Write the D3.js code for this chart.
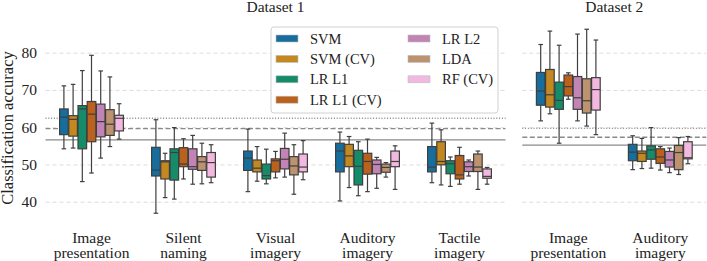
<html>
<head>
<meta charset="UTF-8">
<script src="https://d3js.org/d3.v7.min.js"></script>
<style>
  body { margin: 0; background: #fff; }
  text { font-family: "Liberation Serif", "DejaVu Serif", serif; fill: #222; }
  .domain { display: none; }
  .gridlines line { stroke: #dcdcdc; stroke-dasharray: 4,3; }
</style>
</head>
<body>
<svg id="chart" width="707" height="261"></svg>
<script>
// models (hue) and the colorblind palette
const models = ['SVM', 'SVM (CV)', 'LR L1', 'LR L1 (CV)', 'LR L2', 'LDA', 'RF (CV)'];
const palette = ['#0173b2', '#de8f05', '#029e73', '#d55e00', '#cc78bc', '#ca9161', '#fbafe4'];

// task categories for each dataset
const d1Tasks = ['Image presentation', 'Silent naming', 'Visual imagery', 'Auditory imagery', 'Tactile imagery'];
const d2Tasks = ['Image presentation', 'Auditory imagery'];
const yTicks = [40, 50, 60, 70, 80];

// box stats per model: [whisker low, Q1, median, Q3, whisker high]
const d1ImagePresentation = [
  [54.2, 58.0, 62.7, 64.9, 71.1], [54.4, 57.6, 62.1, 63.1, 71.5], [45.4, 54.2, 64.9, 65.8, 75.2],
  [47.7, 56.1, 63.5, 66.9, 79.3], [51.7, 57.4, 61.5, 66.2, 75.1], [54.8, 57.8, 60.8, 64.7, 73.5],
  [56.8, 59.0, 62.4, 63.2, 66.3]];
const d1SilentNaming = [
  [36.9, 46.9, 48.5, 54.6, 62.0], [41.1, 46.1, 50.7, 51.0, 53.0], [40.7, 45.8, 53.2, 54.2, 59.9],
  [46.1, 49.4, 50.1, 54.5, 56.9], [44.7, 48.7, 49.4, 54.2, 57.8], [44.8, 48.4, 50.7, 52.1, 55.7],
  [45.1, 46.6, 50.5, 53.2, 55.3]];
const d1VisualImagery = [
  [42.7, 48.4, 51.7, 53.6, 59.5], [45.5, 48.0, 49.0, 51.2, 54.8], [44.8, 46.1, 47.0, 50.1, 54.1],
  [46.4, 48.0, 51.0, 51.5, 53.5], [46.6, 48.8, 51.4, 54.3, 58.4], [42.0, 47.2, 49.6, 52.1, 55.3],
  [45.9, 48.0, 49.3, 52.8, 56.4]];
const d1AuditoryImagery = [
  [40.2, 48.0, 53.6, 55.7, 58.7], [43.8, 49.4, 52.3, 55.4, 57.5], [41.6, 44.5, 49.5, 53.8, 56.1],
  [42.7, 47.4, 50.8, 53.0, 56.8], [43.6, 47.5, 50.0, 51.2, 51.9], [46.6, 47.9, 49.2, 50.1, 50.5],
  [43.3, 49.4, 50.8, 53.6, 55.0]];
const d1TactileImagery = [
  [45.1, 48.0, 49.3, 54.8, 61.1], [44.5, 49.9, 50.8, 56.1, 59.3], [44.1, 47.5, 50.2, 51.0, 52.0],
  [44.7, 46.1, 47.2, 52.4, 54.6], [46.9, 48.1, 49.4, 50.7, 51.2], [43.3, 48.1, 49.3, 52.8, 53.6],
  [44.7, 46.3, 46.8, 48.8, 49.2]];
const d2ImagePresentation = [
  [61.7, 65.9, 69.7, 74.7, 82.2], [63.6, 65.4, 68.7, 75.5, 85.8], [55.7, 64.8, 67.2, 72.1, 82.0],
  [67.5, 68.4, 70.9, 74.0, 74.6], [61.7, 64.8, 67.9, 73.6, 85.0], [60.3, 63.8, 67.1, 73.0, 86.3],
  [58.0, 64.6, 70.1, 73.3, 83.4]];
const d2AuditoryImagery = [
  [48.6, 51.0, 53.3, 55.4, 57.7], [48.9, 50.8, 53.0, 53.6, 57.0], [49.0, 51.4, 53.9, 55.0, 59.9],
  [48.5, 50.3, 52.0, 54.2, 54.8], [47.8, 49.3, 51.2, 53.5, 54.4], [47.3, 48.6, 53.2, 55.1, 57.2],
  [50.2, 51.5, 51.8, 56.1, 57.5]];

// chance-level reference lines: dotted, dashed, solid
const d1RefLines = [62.4, 59.6, 56.6];
const d2RefLines = [59.7, 57.3, 55.2];

const d1Stats = [d1ImagePresentation, d1SilentNaming, d1VisualImagery, d1AuditoryImagery, d1TactileImagery];
const d2Stats = [d2ImagePresentation, d2AuditoryImagery];

const svg = d3.select('#chart');
const lineColor = '#3f3f3f';
const fills = palette.map(c => { const h = d3.hsl(c); h.s *= 0.75; return h.formatHex(); });
const colorScale = d3.scaleOrdinal().domain(models).range(fills);

const y = d3.scaleLinear().domain([40, 80]).range([201.7, 52.7]);
const refDash = ['1,1.8', '5,2.5', null];

const panels = [
  {title: 'Dataset 1', tasks: d1Tasks, stats: d1Stats, refs: d1RefLines, range: [45.5, 505.5]},
  {title: 'Dataset 2', tasks: d2Tasks, stats: d2Stats, refs: d2RefLines, range: [522.3, 706.3]}
];

panels.forEach(p => {
  const x = d3.scaleBand().domain(p.tasks).range(p.range);
  const w = p.range[1] - p.range[0];
  const hue = d3.scaleBand().domain(models)
                .range([x.bandwidth() * 0.15, x.bandwidth() * 0.85]);

  // dashed gridlines
  svg.append('g')
     .attr('class', 'gridlines')
     .attr('transform', `translate(${p.range[0]},0)`)
     .call(d3.axisLeft(y).tickValues(yTicks).tickSize(-w).tickFormat(''));

  // reference lines
  svg.append('g').selectAll('line')
     .data(p.refs)
     .join('line')
     .attr('x1', p.range[0]).attr('x2', p.range[1])
     .attr('y1', d => y(d)).attr('y2', d => y(d))
     .attr('stroke', '#8a8a8a')
     .attr('stroke-width', 1.3)
     .attr('stroke-dasharray', (d, i) => refDash[i]);

  // category labels (two lines)
  const xAxis = svg.append('g')
     .attr('transform', 'translate(0,227)')
     .call(d3.axisBottom(x).tickSize(0).tickPadding(0));
  xAxis.selectAll('.tick text')
     .attr('font-size', 15.5)
     .attr('y', 0).attr('dy', null)
     .each(function(d) {
        const t = d3.select(this).text('');
        d.split(' ').forEach((word, i) => {
          t.append('tspan').attr('x', 0).attr('y', 15.5 + i * 15).text(word);
        });
     });

  // title
  svg.append('text')
     .attr('x', (p.range[0] + p.range[1]) / 2)
     .attr('y', 12)
     .attr('text-anchor', 'middle')
     .attr('font-size', 15.5)
     .text(p.title);

  // boxes
  const groups = svg.append('g').selectAll('g.task')
     .data(p.tasks)
     .join('g')
     .attr('class', 'task')
     .attr('transform', d => `translate(${x(d)},0)`);

  groups.each(function(task, ti) {
    const g = d3.select(this);
    const bw = hue.bandwidth();
    const boxes = g.selectAll('g.box')
       .data(p.stats[ti].map((s, mi) => ({model: models[mi], s: s})))
       .join('g')
       .attr('class', 'box')
       .attr('transform', d => `translate(${hue(d.model)},0)`);

    boxes.append('line')
       .attr('x1', bw / 2).attr('x2', bw / 2)
       .attr('y1', d => y(d.s[0])).attr('y2', d => y(d.s[1]));
    boxes.append('line')
       .attr('x1', bw / 2).attr('x2', bw / 2)
       .attr('y1', d => y(d.s[3])).attr('y2', d => y(d.s[4]));
    boxes.append('line')
       .attr('x1', bw / 4).attr('x2', bw * 3 / 4)
       .attr('y1', d => y(d.s[0])).attr('y2', d => y(d.s[0]));
    boxes.append('line')
       .attr('x1', bw / 4).attr('x2', bw * 3 / 4)
       .attr('y1', d => y(d.s[4])).attr('y2', d => y(d.s[4]));
    boxes.append('rect')
       .attr('x', 0.3).attr('width', bw - 0.6)
       .attr('y', d => y(d.s[3]))
       .attr('height', d => y(d.s[1]) - y(d.s[3]))
       .attr('fill', d => colorScale(d.model));
    boxes.append('line')
       .attr('x1', 0.3).attr('x2', bw - 0.3)
       .attr('y1', d => y(d.s[2])).attr('y2', d => y(d.s[2]));
    boxes.selectAll('line, rect')
       .attr('stroke', lineColor)
       .attr('stroke-width', 1.2);
  });
});

// y axis labels
svg.append('g')
   .attr('transform', 'translate(45,0)')
   .call(d3.axisLeft(y).tickValues(yTicks).tickSize(0).tickPadding(8))
   .selectAll('text')
   .attr('font-size', 15.5);

svg.append('text')
   .attr('transform', 'translate(13,128) rotate(-90)')
   .attr('text-anchor', 'middle')
   .attr('font-size', 16.5)
   .text('Classification accuracy');

// legend
const legend = svg.append('g').attr('transform', 'translate(271,27)');
legend.append('rect')
   .attr('width', 227).attr('height', 86)
   .attr('rx', 3)
   .attr('fill', '#fff').attr('fill-opacity', 0.85)
   .attr('stroke', '#d0d0d0');
const items = legend.selectAll('g.item')
   .data(models)
   .join('g')
   .attr('class', 'item')
   .attr('transform', (d, i) => `translate(${i < 4 ? 5 : 137},${11.5 + (i % 4) * 20.4})`);
items.append('rect')
   .attr('x', 0).attr('y', -3.5)
   .attr('width', 22).attr('height', 7)
   .attr('fill', d => colorScale(d))
   .attr('stroke', '#bdbdbd').attr('stroke-width', 0.6);
items.append('text')
   .attr('x', 34).attr('y', 5)
   .attr('font-size', 14.5)
   .text(d => d);
</script>
</body>
</html>
